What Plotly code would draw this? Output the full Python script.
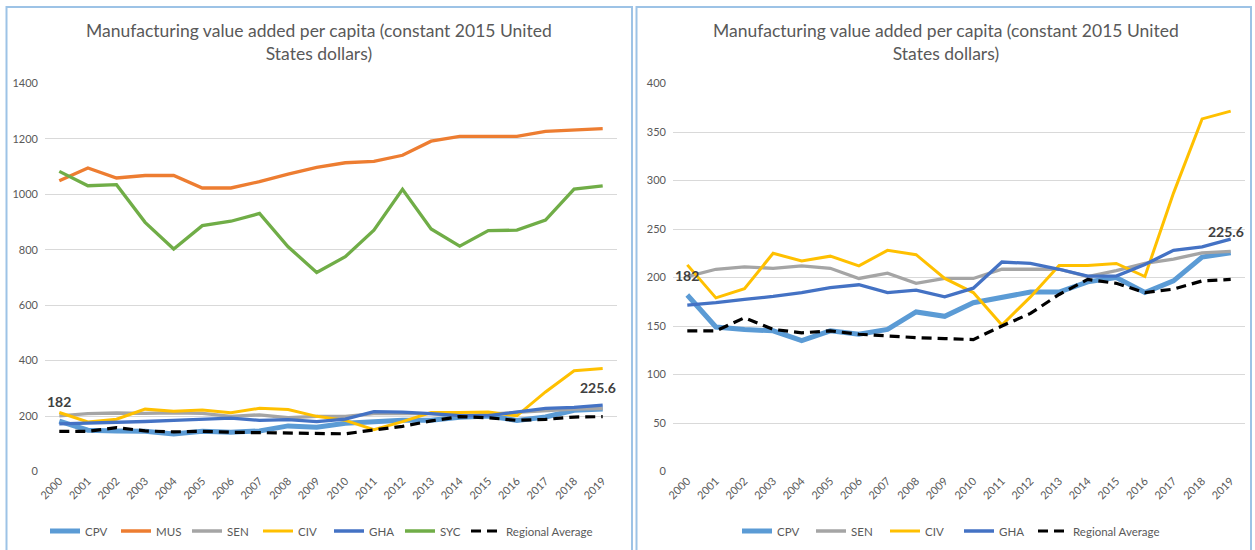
import plotly.graph_objects as go

years = [str(y) for y in range(2000, 2020)]

cpv = [182, 149, 146.5, 145, 135, 145, 141.5, 146.5, 164.5, 160, 174, 180, 185, 185, 195.5, 200, 184.5, 196.5, 221, 225.6]
mus = [1049, 1095, 1059, 1068, 1068, 1023, 1023, 1046, 1073, 1097, 1114, 1119, 1141, 1192, 1209, 1209, 1209, 1227, 1232, 1237]
sen = [201, 208.5, 211, 209.5, 212, 209.5, 199, 204.5, 194, 199, 199, 208.5, 208.5, 208.5, 201, 207, 214.5, 219, 225.5, 227]
civ = [213, 179, 188.5, 225, 217, 222, 212, 228, 223.5, 199, 184.5, 151, 180, 212.5, 212.5, 214.5, 201, 287, 363.5, 371.5]
gha = [171.5, 174, 177.5, 180.5, 184.5, 189.5, 192.5, 184.5, 187, 180, 189, 216, 214.5, 208.5, 201.5, 201.5, 213.5, 228, 231.5, 239.5]
syc = [1083, 1031, 1035, 899, 803, 887, 903, 931, 811, 718, 775, 871, 1018, 875, 813, 869, 871, 907, 1019, 1031]
reg = [145, 145, 158.5, 146.5, 143, 145, 141.5, 139.5, 138, 137, 136, 150, 163, 182.5, 198, 194, 184.5, 188, 196.5, 198]

title_text = "Manufacturing value added per capita (constant 2015 United<br>States dollars)"
left_ticks = list(range(0, 1401, 200))
right_ticks = list(range(0, 401, 50))

C_CPV = "#5B9BD5"
C_MUS = "#ED7D31"
C_SEN = "#A5A5A5"
C_CIV = "#FFC000"
C_GHA = "#4472C4"
C_SYC = "#70AD47"
C_REG = "#000000"

W, H = 1255, 550
FONT = "Lato"
TXT = "#595959"

fig = go.Figure()

def add(name, vals, color, width, xa, ya, legend, dash="solid"):
    fig.add_trace(go.Scatter(
        x=years, y=vals, name=name, mode="lines",
        line=dict(color=color, width=width, dash=dash),
        xaxis=xa, yaxis=ya, legend=legend, hoverinfo="skip"))

# Left chart
add("CPV", cpv, C_CPV, 5, "x", "y", "legend")
add("MUS", mus, C_MUS, 3.3, "x", "y", "legend")
add("SEN", sen, C_SEN, 3.3, "x", "y", "legend")
add("CIV", civ, C_CIV, 3, "x", "y", "legend")
add("GHA", gha, C_GHA, 3.3, "x", "y", "legend")
add("SYC", syc, C_SYC, 3.3, "x", "y", "legend")
add("Regional Average", reg, C_REG, 3.2, "x", "y", "legend3", dash="10px,6px")

# Right chart
add("CPV", cpv, C_CPV, 5, "x2", "y2", "legend2")
add("SEN", sen, C_SEN, 3.3, "x2", "y2", "legend2")
add("CIV", civ, C_CIV, 3, "x2", "y2", "legend2")
add("GHA", gha, C_GHA, 3.3, "x2", "y2", "legend2")
add("Regional Average", reg, C_REG, 3.2, "x2", "y2", "legend4", dash="10px,6px")

def px_x(p):
    return p / W

def px_y(p):
    return 1 - p / H

ydom = [px_y(471.5), px_y(83.5)]

axis_common = dict(
    showline=False, zeroline=False, ticks="", automargin=False,
    tickfont=dict(family=FONT, size=11, color=TXT),
)

legend_common = dict(orientation="h", xanchor="left", yanchor="middle",
                     font=dict(family=FONT, size=11.5, color=TXT), bgcolor="rgba(0,0,0,0)",
                     itemwidth=30, tracegroupgap=0)

fig.update_layout(
    template="none",
    width=W, height=H, autosize=False,
    margin=dict(l=0, r=0, t=0, b=0, pad=0, autoexpand=False),
    paper_bgcolor="white", plot_bgcolor="white",
    font=dict(family=FONT, color=TXT),
    showlegend=True,
    xaxis=dict(domain=[px_x(45), px_x(617)], anchor="y", tickangle=-45,
               showgrid=False, range=[-0.5, 19.5], type="category", **axis_common),
    yaxis=dict(domain=ydom, anchor="x", range=[0, 1400], tickvals=left_ticks,
               showgrid=True, gridcolor="#D9D9D9", gridwidth=1, ticklabelstandoff=6, **axis_common),
    xaxis2=dict(domain=[px_x(673), px_x(1245)], anchor="y2", tickangle=-45,
                showgrid=False, range=[-0.5, 19.5], type="category", **axis_common),
    yaxis2=dict(domain=ydom, anchor="x2", range=[0, 400], tickvals=right_ticks,
                showgrid=True, gridcolor="#D9D9D9", gridwidth=1, ticklabelstandoff=6, **axis_common),
    legend=dict(x=px_x(45), y=px_y(531), entrywidth=26, entrywidthmode="pixels", **legend_common),
    legend3=dict(x=px_x(466), y=px_y(531), **legend_common),
    legend2=dict(x=px_x(737), y=px_y(531), entrywidth=29, entrywidthmode="pixels", **legend_common),
    legend4=dict(x=px_x(1033), y=px_y(531), **legend_common),
)

# Panel borders
for x0, x1 in [(6.5, 632), (636.5, 1251)]:
    fig.add_shape(type="rect", xref="paper", yref="paper",
                  x0=px_x(x0), x1=px_x(x1), y0=px_y(560), y1=px_y(7),
                  line=dict(color="#9DC3E6", width=2), fillcolor="rgba(0,0,0,0)", layer="below")

# Titles
for cx in [319, 946]:
    fig.add_annotation(text=title_text, xref="paper", yref="paper",
                       x=px_x(cx), y=px_y(42), xanchor="center", yanchor="middle",
                       showarrow=False, align="center",
                       font=dict(family=FONT, size=17.5, color=TXT))

# Data labels (category axis: use category index positions)
for xa, ya in [("x", "y"), ("x2", "y2")]:
    fig.add_annotation(text="<b>%g</b>" % cpv[0], x=0, y=cpv[0], xref=xa, yref=ya,
                       showarrow=False, yanchor="bottom", yshift=9,
                       font=dict(family=FONT, size=14, color="#404040"))
    fig.add_annotation(text="<b>%g</b>" % cpv[-1], x=len(years) - 1, y=cpv[-1], xref=xa, yref=ya,
                       showarrow=False, yanchor="bottom", yshift=11, xshift=-5,
                       font=dict(family=FONT, size=14, color="#404040"))

fig.write_html("out.html",
               config={"displayModeBar": False, "responsive": False},
               post_script="document.body.style.margin='0';document.body.style.overflow='hidden';")
